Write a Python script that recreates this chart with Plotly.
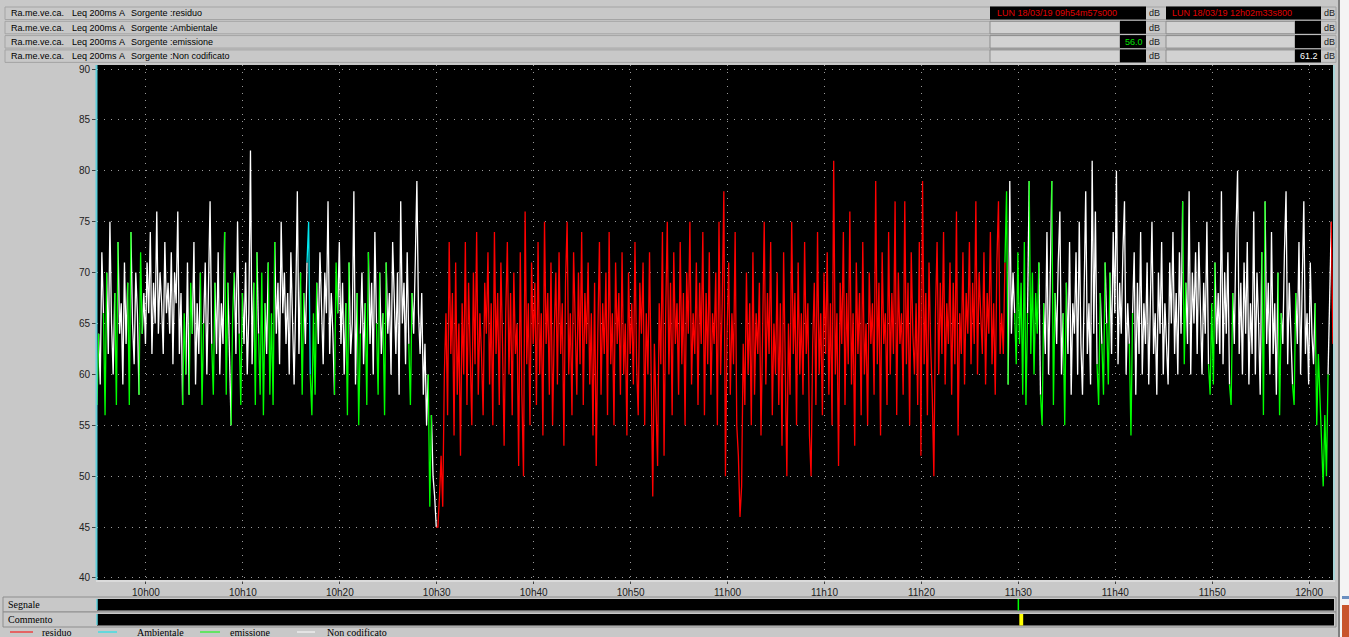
import pandas as pd
import plotly.graph_objects as go

# ---------------- data (~10 s steps) ----------------
START = "2019-03-18 09:54:57"
END = "2019-03-18 12:02:33.8"
STEP = "10s"

# Leq 200ms A [dB] 09:54:57 -> 10:29:57 (Non codificato / emissione)
leq_part1 = [
    57, 64, 59, 72, 66, 56, 70, 62, 75, 65, 60, 68, 57, 73, 64,
    67, 59, 71, 63, 69, 57, 74, 65, 61, 70, 66, 58, 72, 64, 68,
    63, 71, 66, 74, 62, 69, 65, 76, 64, 70, 67, 62, 73, 66, 69,
    64, 72, 61, 70, 67, 76, 62, 68, 57, 66, 60, 71, 58, 69, 64,
    73, 59, 67, 62, 70, 57, 65, 71, 60, 68, 77, 63, 58, 69, 62,
    72, 60, 67, 63, 74, 58, 69, 61, 55, 66, 70, 62, 75, 64, 57,
    68, 63, 71, 60, 66, 82, 61, 69, 57, 72, 64, 58, 70, 56, 67,
    62, 71, 58, 66, 57, 73, 64, 69, 61, 75, 66, 70, 63, 68, 60,
    72, 65, 59, 67, 78, 62, 70, 58, 68, 63, 71, 75, 60, 56, 66,
    58, 69, 63, 72, 65, 61, 70, 66, 77, 62, 68, 64, 58, 71, 66,
    73, 63, 69, 60, 67, 56, 71, 62, 65, 78, 59, 68, 55, 64, 70,
    61, 67, 57, 72, 63, 69, 60, 74, 65, 58, 70, 62, 66, 56, 71,
    64, 68, 60, 73, 66, 62, 70, 58, 77, 65, 69, 61, 72, 63, 57,
    68, 64, 71, 79, 66, 62, 68, 58, 63, 55, 60, 47, 56, 50, 48, 45,
]
# residuo period 10:30:07 -> 11:28:17
leq_residuo = [
    45, 48, 52, 47, 60, 66, 56, 73, 62, 68, 54, 71, 58, 65, 52,
    67, 60, 73, 57, 69, 63, 55, 70, 61, 74, 58, 66, 62, 56, 69,
    64, 72, 59, 67, 55, 74, 62, 68, 57, 71, 63, 53, 66, 73, 60,
    68, 56, 70, 62, 65, 51, 72, 58, 50, 76, 61, 67, 55, 71, 63,
    69, 57, 73, 60, 66, 54, 75, 63, 68, 58, 71, 55, 64, 70, 59,
    72, 62, 67, 53, 69, 75, 60, 66, 56, 72, 63, 58, 70, 61, 74,
    57, 68, 63, 71, 59, 66, 54, 69, 51, 64, 73, 58, 67, 62, 70,
    56, 74, 61, 66, 55, 71, 63, 68, 58, 72, 60, 65, 54, 70, 62,
    67, 59, 73, 61, 56, 69, 64, 71, 55, 66, 60, 72, 57, 48, 63,
    58, 51, 67, 61, 74, 52, 66, 75, 60, 69, 56, 72, 63, 67, 58,
    73, 61, 68, 55, 70, 64, 75, 59, 66, 62, 71, 57, 69, 63, 74,
    56, 68, 61, 72, 58, 66, 63, 70, 55, 75, 60, 67, 78, 50, 64,
    71, 58, 66, 61, 74, 55, 52, 46, 49, 63, 57, 70, 60, 67, 55,
    72, 58, 66, 62, 69, 54, 64, 75, 59, 68, 62, 73, 56, 65, 60,
    70, 57, 67, 53, 72, 61, 50, 65, 58, 75, 62, 68, 55, 71, 60,
    66, 58, 73, 62, 67, 54, 50, 63, 69, 57, 74, 60, 66, 56, 70,
    62, 72, 58, 67, 55, 81, 60, 66, 51, 69, 63, 74, 57, 68, 61,
    76, 59, 66, 53, 71, 62, 68, 56, 73, 60, 65, 55, 70, 63, 67,
    58, 79, 61, 69, 54, 72, 63, 66, 57, 74, 60, 68, 62, 77, 56,
    70, 63, 66, 58, 77, 61, 69, 55, 72, 64, 60, 67, 57, 73, 52,
    79, 61, 68, 56, 71, 63, 58, 50, 66, 73, 60, 69, 62, 74, 59,
    67, 63, 71, 58, 69, 61, 76, 54, 66, 62, 72, 59, 68, 64, 73,
    61, 69, 63, 77, 60, 70, 65, 62, 72, 59, 68, 64, 74, 61, 67,
    58, 71, 77, 62, 66,
]
# 11:28:27 -> 12:02:27
leq_part3 = [
    62, 71, 78, 59, 79, 64, 70, 66, 61, 72, 63, 69, 58, 73, 57,
    66, 79, 62, 70, 60, 68, 64, 71, 58, 55, 67, 62, 74, 60, 69,
    79, 57, 68, 63, 71, 76, 60, 66, 55, 69, 62, 73, 58, 67, 64,
    72, 60, 75, 63, 58, 69, 78, 62, 67, 59, 81, 64, 76, 61, 57,
    68, 63, 58, 71, 65, 59, 70, 62, 74, 66, 80, 61, 69, 64, 72,
    77, 60, 67, 63, 54, 66, 72, 58, 69, 62, 74, 60, 67, 63, 71,
    59, 68, 75, 62, 66, 58, 70, 64, 73, 60, 67, 63, 59, 71, 65,
    74, 62, 68, 60, 72, 64, 77, 61, 69, 63, 78, 60, 70, 65, 72,
    62, 73, 66, 60, 69, 64, 75, 61, 58, 67, 59, 71, 63, 68, 62,
    78, 61, 70, 64, 72, 59, 57, 68, 63, 74, 80, 62, 69, 60, 71,
    64, 73, 59, 67, 62, 76, 60, 70, 65, 58, 72, 56, 77, 63, 69,
    60, 74, 62, 67, 58, 70, 56, 66, 63, 72, 78, 61, 69, 64, 59,
    57, 68, 63, 73, 60, 69, 77, 62, 66, 59, 71, 64, 61, 67, 55,
    62, 58, 53, 49, 56, 50, 60, 67, 75, 63,
]
# source coding (indices inside each part)
emissione_idx_1 = [0, 5, 12, 20, 27, 54, 58, 65, 72, 80, 84, 89, 98, 101, 103,
                   107, 109, 127, 133, 135, 148, 155, 162, 167, 174, 178, 194, 206]
ambientale_idx_1 = [131]
emissione_idx_3 = [2, 8, 10, 12, 14, 17, 19, 21, 24, 31, 38, 59, 62, 65, 79,
                   112, 128, 130, 141, 161, 171, 180, 194, 196, 198, 200]
residuo_idx_3 = [0, 204]

y_ticks = [40, 45, 50, 55, 60, 65, 70, 75, 80, 85, 90]
x_tick_times = ["2019-03-18 10:00", "2019-03-18 10:10", "2019-03-18 10:20",
                "2019-03-18 10:30", "2019-03-18 10:40", "2019-03-18 10:50",
                "2019-03-18 11:00", "2019-03-18 11:10", "2019-03-18 11:20",
                "2019-03-18 11:30", "2019-03-18 11:40", "2019-03-18 11:50",
                "2019-03-18 12:00"]
x_tick_labels = ["10h00", "10h10", "10h20", "10h30", "10h40", "10h50", "11h00",
                 "11h10", "11h20", "11h30", "11h40", "11h50", "12h00"]

sources = ["residuo", "Ambientale", "emissione", "Non codificato"]
source_codes = ["R", "A", "E", "N"]
source_colors = ["#ff0000", "#00e8f0", "#00ff00", "#ffffff"]
station = "Ra.me.ve.ca."
param = "Leq 200ms"
weighting = "A"
cursor_start = "LUN 18/03/19 09h54m57s000"
cursor_end = "LUN 18/03/19 12h02m33s800"
left_values = ["", "", "56.0", ""]
right_values = ["", "", "", "61.2"]
segnale_time = "2019-03-18 11:30:00"
commento_start = "2019-03-18 11:30:06"
commento_end = "2019-03-18 11:30:30"

# ---------------- build coded series ----------------
values = leq_part1 + leq_residuo + leq_part3
codes = ["N"] * len(leq_part1) + ["R"] * len(leq_residuo) + ["N"] * len(leq_part3)
for i in emissione_idx_1:
    codes[i] = "E"
for i in ambientale_idx_1:
    codes[i] = "A"
off3 = len(leq_part1) + len(leq_residuo)
for i in emissione_idx_3:
    codes[off3 + i] = "E"
for i in residuo_idx_3:
    codes[off3 + i] = "R"
times = pd.date_range(START, periods=len(values), freq=STEP)

segs = {c: ([], []) for c in source_codes}
last_end = {c: None for c in source_codes}
for k in range(len(values) - 1):
    a, b = codes[k], codes[k + 1]
    c = b if b != "N" else a
    xs, ys = segs[c]
    if last_end[c] != k:
        if xs:
            xs.append(None)
            ys.append(None)
        xs.append(times[k])
        ys.append(values[k])
    xs.append(times[k + 1])
    ys.append(values[k + 1])
    last_end[c] = k + 1

fig = go.Figure()
for c in ["N", "R", "E", "A"]:
    col = source_colors[source_codes.index(c)]
    xs, ys = segs[c]
    if xs:
        fig.add_trace(go.Scatter(x=xs, y=ys, mode="lines",
                                 line=dict(color=col, width=1.3),
                                 connectgaps=False, hoverinfo="skip"))

# ---------------- layout ----------------
W, H = 1349, 637
PL, PR, PT, PB = 97, 1334, 65, 580
BG = "#c8c8c8"
SANS = "Liberation Sans, Arial, sans-serif"
SERIF = "Liberation Serif, Times New Roman, serif"


def fx(px):
    return (px - PL) / (PR - PL)


def fy(py):
    return (PB - py) / (PB - PT)


shapes = []
ann = []


def rect(x0, y0, x1, y1, fill, line=None, lw=1):
    shapes.append(dict(type="rect", xref="paper", yref="paper",
                       x0=fx(x0), x1=fx(x1), y0=fy(y1), y1=fy(y0),
                       fillcolor=fill, line=dict(color=line or fill, width=lw if line else 0),
                       layer="above"))


def text(px, py, s, size=9, color="#000000", family=SANS, anchor="left"):
    ann.append(dict(xref="paper", yref="paper", x=fx(px), y=fy(py), text=s,
                    showarrow=False, xanchor=anchor, yanchor="middle",
                    font=dict(size=size, color=color, family=family)))


# header rows
for r, src in enumerate(sources):
    top = 7 + 14.3 * r
    bot = top + 12.5
    cy = (top + bot) / 2
    rect(5, top, 1336, bot, BG, "#a4a4a4")
    text(9, cy, station, 9)
    text(70, cy, param, 9)
    text(117, cy, weighting, 9)
    text(129, cy, "Sorgente :" + src, 9)
    if r == 0:
        rect(990, top - 0.5, 1120, bot, "#000000")
        rect(1166, top - 0.5, 1295, bot, "#000000")
        text(1119, cy, cursor_start, 9, "#e00000", anchor="right")
        text(1294, cy, cursor_end, 9, "#e00000", anchor="right")
    else:
        rect(990, top, 1120, bot, "#d2d2d2", "#8c8c8c")
        rect(1166, top, 1295, bot, "#d2d2d2", "#8c8c8c")
    rect(1120, top - 0.5, 1146, bot, "#000000")
    rect(1295, top - 0.5, 1321, bot, "#000000")
    text(1147, cy, "dB", 9, "#202020")
    text(1322, cy, "dB", 9, "#202020")
    if left_values[r]:
        text(1145, cy, left_values[r], 9, "#00e000", anchor="right")
    if right_values[r]:
        text(1320, cy, right_values[r], 9, "#ffffff", anchor="right")

# plot borders
shapes.append(dict(type="line", xref="paper", yref="paper", x0=fx(96.5), x1=fx(96.5),
                   y0=0, y1=1, line=dict(color="#5fd0dc", width=2), layer="above"))
shapes.append(dict(type="line", xref="paper", yref="paper", x0=fx(1334), x1=fx(1334),
                   y0=0, y1=1, line=dict(color="#a6d4d8", width=2), layer="above"))
shapes.append(dict(type="line", xref="paper", yref="paper", x0=fx(96), x1=fx(1335),
                   y0=fy(581), y1=fy(581), line=dict(color="#eeeeee", width=1), layer="above"))

# Segnale / Commento rows
rect(3, 597, 1336, 612, BG, "#8e8e8e")
rect(3, 612, 1336, 627, BG, "#8e8e8e")
text(6, 604.5, "Segnale", 10, "#000000", SERIF)
text(6, 619.5, "Commento", 10, "#000000", SERIF)
rect(97, 599, 1334, 610.5, "#000000")
rect(97, 614, 1334, 625.5, "#000000")
shapes.append(dict(type="line", xref="paper", yref="paper", x0=fx(97), x1=fx(97),
                   y0=fy(610), y1=fy(599), line=dict(color="#5fd0dc", width=1.5), layer="above"))
shapes.append(dict(type="line", xref="paper", yref="paper", x0=fx(97), x1=fx(97),
                   y0=fy(625), y1=fy(614), line=dict(color="#5fd0dc", width=1.5), layer="above"))
shapes.append(dict(type="line", xref="x", yref="paper", x0=segnale_time, x1=segnale_time,
                   y0=fy(610.5), y1=fy(599), line=dict(color="#00ff00", width=1.5), layer="above"))
shapes.append(dict(type="rect", xref="x", yref="paper", x0=commento_start, x1=commento_end,
                   y0=fy(625.5), y1=fy(614), fillcolor="#ffff00", line=dict(width=0), layer="above"))

# legend row
leg_line_x = [(10, 33), (98, 117), (200, 220), (297, 315)]
leg_text_x = [40, 135, 228, 325]
for (a, b), tx, src, col in zip(leg_line_x, leg_text_x, sources, source_colors):
    shapes.append(dict(type="line", xref="paper", yref="paper", x0=fx(a), x1=fx(b),
                       y0=fy(632), y1=fy(632), line=dict(color=col, width=1), layer="above"))
    text(tx, 632, src, 10, "#000000", SERIF)

# window edge on the right
rect(1338, 0, 1340, 637, "#808080")
rect(1340, 0, 1349, 637, "#f4f4f4")
rect(1342, 596, 1349, 599, "#6a8fc0")
rect(1342, 605, 1349, 637, "#c8542c")

fig.update_layout(
    width=W, height=H,
    margin=dict(l=PL, r=W - PR, t=PT, b=H - PB, pad=0),
    paper_bgcolor=BG, plot_bgcolor="#000000",
    showlegend=False,
    shapes=shapes, annotations=ann,
    xaxis=dict(type="date", range=[START, END], tickvals=x_tick_times,
               ticktext=x_tick_labels, ticks="outside", ticklen=3, tickcolor="#404040",
               showgrid=True, gridcolor="#9a9a9a", griddash="1px,6px", gridwidth=1,
               zeroline=False, showline=False,
               tickfont=dict(size=10, color="#202020", family=SANS)),
    yaxis=dict(range=[39.8, 90.4], tickvals=y_ticks, ticks="outside", ticklen=4,
               tickcolor="#404040", showgrid=True, gridcolor="#9a9a9a",
               griddash="1px,6px", gridwidth=1, zeroline=False, showline=False,
               tickfont=dict(size=10, color="#202020", family=SANS)),
)

fig.write_html("out.html", config={"displayModeBar": False},
               post_script="document.body.style.margin='0';document.body.style.overflow='hidden';")
